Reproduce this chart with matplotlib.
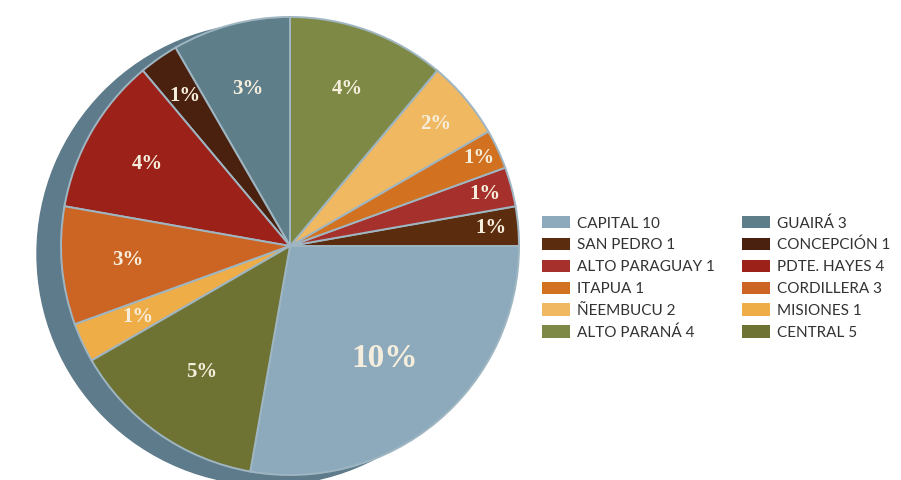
import matplotlib
matplotlib.use('Agg')
import matplotlib.pyplot as plt
import numpy as np
from matplotlib.patches import Circle, Patch

# data (counterclockwise from startangle, Capital first)
departments = ['CAPITAL', 'SAN PEDRO', 'ALTO PARAGUAY', 'ITAPUA', 'ÑEEMBUCU',
               'ALTO PARANÁ', 'GUAIRÁ', 'CONCEPCIÓN', 'PDTE. HAYES',
               'CORDILLERA', 'MISIONES', 'CENTRAL']
values = [10, 1, 1, 1, 2, 4, 3, 1, 4, 3, 1, 5]
colors = ['#8caabc', '#5c2c0e', '#a6302b', '#d2711f', '#f1b862', '#7e8945',
          '#5e7e8a', '#4a200f', '#9b2119', '#cc6524', '#efad48', '#6e7333']
# radial position of each percentage label (fraction of radius)
label_dist = [0.64, 0.88, 0.88, 0.91, 0.83, 0.73, 0.71, 0.80, 0.72, 0.71, 0.73, 0.67]

fig = plt.figure(figsize=(9.01, 4.80), dpi=100)
ax = fig.add_axes([0, 0, 1, 1])

cx, cy, r = 290, 234, 229

# dark rim / shadow behind the pie
ax.add_patch(Circle((cx - 22, cy - 8), r + 2, color='#5d7b8b', zorder=0))

wedges, _ = ax.pie(values, colors=colors, startangle=260, counterclock=True,
                   center=(cx, cy), radius=r, frame=True,
                   wedgeprops=dict(edgecolor='#9fb6c2', linewidth=1.4))
ax.set_xlim(0, 901)
ax.set_ylim(0, 480)
ax.set_aspect('equal')
ax.axis('off')

for w, v, d in zip(wedges, values, label_dist):
    ang = np.deg2rad((w.theta1 + w.theta2) / 2)
    x = cx + d * r * np.cos(ang)
    y = cy + d * r * np.sin(ang)
    size = 24 if v == 10 else 15
    ax.text(x, y, f'{v}%', ha='center', va='center', fontsize=size,
            family='Liberation Serif', fontweight='bold', color='#f6eedc')

# legend in two columns
handles = [Patch(facecolor=c, edgecolor='none') for c in colors]
labels = [f'{d} {v}' for d, v in zip(departments, values)]
leg_kw = dict(frameon=False, handlelength=1.85, handleheight=0.88,
              handletextpad=0.45, labelspacing=0.48, borderpad=0, borderaxespad=0,
              prop={'family': 'Lato', 'size': 11}, labelcolor='#333333')
leg1 = fig.legend(handles[:6], labels[:6], loc='upper left',
                  bbox_to_anchor=(542 / 901, 1 - 216 / 480), **leg_kw)
leg2 = fig.legend(handles[6:], labels[6:], loc='upper left',
                  bbox_to_anchor=(742 / 901, 1 - 216 / 480), **leg_kw)

fig.savefig('out.png', dpi=100)
